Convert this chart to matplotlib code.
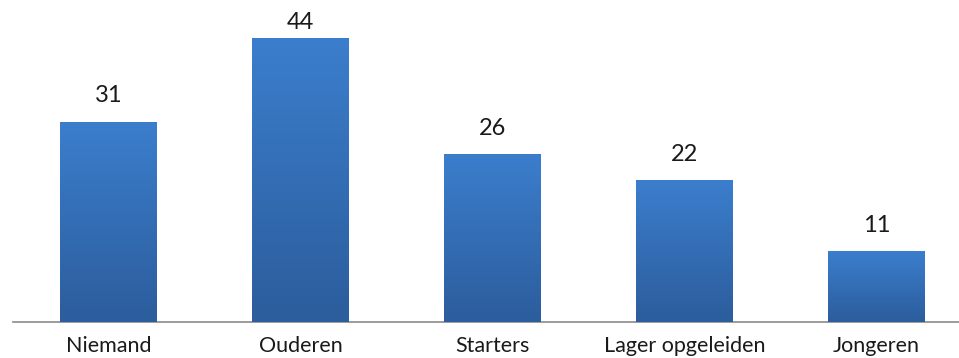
import matplotlib
matplotlib.use('Agg')
import matplotlib.pyplot as plt
import numpy as np
from matplotlib.colors import LinearSegmentedColormap

categories = ['Niemand', 'Ouderen', 'Starters', 'Lager opgeleiden', 'Jongeren']
values = [31, 44, 26, 22, 11]

plt.rcParams['font.family'] = ['Lato', 'DejaVu Sans']

fig = plt.figure(figsize=(9.59, 3.58), dpi=100)
ax = fig.add_axes([12.5 / 959, 36 / 358, 960 / 959, 322 / 358])

x = np.arange(len(categories))
bars = ax.bar(x, values, width=0.505, color='#3570b8', edgecolor='none', zorder=2)

cmap = LinearSegmentedColormap.from_list('grad', ['#2c5d9c', '#3b7ecd'])
grad = np.linspace(0, 1, 256).reshape(-1, 1)
for b in bars:
    x0, y0 = b.get_x(), b.get_y()
    w, h = b.get_width(), b.get_height()
    im = ax.imshow(grad, cmap=cmap, aspect='auto', origin='lower',
                   extent=[x0, x0 + w, y0, y0 + h], zorder=3)
    im.set_clip_path(b)
    # label above bar, but kept inside the top of the chart
    ax.text(x0 + w / 2, min(h + 2.4, 44.8), str(int(h)), ha='center', va='bottom',
            fontsize=17, color='#1a1a1a', zorder=4)

ax.set_xlim(-0.5, len(categories) - 0.5)
ax.set_ylim(0, 49.9)
ax.set_xticks(x)
ax.set_xticklabels(categories, fontsize=15.5, color='#1a1a1a')
ax.tick_params(axis='x', length=0, pad=10)
ax.set_yticks([])
for s in ['top', 'right', 'left']:
    ax.spines[s].set_visible(False)
ax.spines['bottom'].set_color('#8a8a8a')
ax.spines['bottom'].set_linewidth(1.2)

fig.savefig('out.png', dpi=100)
